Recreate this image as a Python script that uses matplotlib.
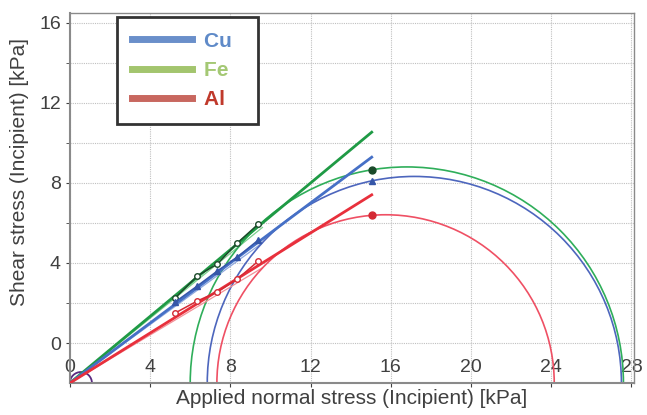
import matplotlib
matplotlib.use('Agg')
import matplotlib.pyplot as plt
from matplotlib.patches import Arc
from matplotlib.lines import Line2D

plt.rcParams['font.family'] = ['Liberation Sans', 'DejaVu Sans']

# normal stress of the measured points (kPa)
sigma_pts = [5.25, 6.35, 7.35, 8.35, 9.4]
fe_tau = [4.25, 5.35, 5.95, 7.0, 7.95]
cu_tau = [4.05, 4.85, 5.6, 6.3, 7.15]
al_tau = [3.5, 4.1, 4.55, 5.2, 6.1]

# mohr circles: (sigma_min, sigma_max)
fe_circle = (6.0, 27.6)
cu_circle = (6.85, 27.5)
al_circle = (7.33, 24.15)
small_circle = (0.0, 1.1)

# fitted yield loci: slope, end of line
fe_slope, cu_slope, al_slope = 0.833, 0.75, 0.625
fe_slope2, cu_slope2, al_slope2 = 0.81, 0.73, 0.60
sigma_end = 15.05
sigma_end2 = 9.6

# tick labels as printed (the printed y labels sit 2 kPa above the baseline)
xticks = [0, 4, 8, 12, 16, 20, 24, 28]
ytick_pos = [2, 6, 10, 14, 18]
ytick_lab = ['0', '4', '8', '12', '16']

materials = [
    # name, tau, circle, slope, slope2, fit col, poly col, thin col, circ col, marker, filled
    ('Fe', fe_tau, fe_circle, fe_slope, fe_slope2, '#1f9a45', '#1b4a2a', '#7ccf8c', '#2fae5a', 'o', False),
    ('Cu', cu_tau, cu_circle, cu_slope, cu_slope2, '#4670c6', '#3556a8', '#8ea8de', '#4d66bd', '^', True),
    ('Al', al_tau, al_circle, al_slope, al_slope2, '#e8303c', '#d42a34', '#f29098', '#ef5064', 'o', False),
]

fig = plt.figure(figsize=(6.47, 4.15), dpi=100)
ax = fig.add_axes([0.108, 0.077, 0.872, 0.892])

for name, tau, circ, k, k2, cfit, cpoly, cthin, ccirc, mk, filled in materials:
    # thin companion line
    ax.plot([0, sigma_end2], [0, k2 * sigma_end2], color=cthin, lw=0.9, zorder=2)
    # fitted line
    ax.plot([0, sigma_end], [0, k * sigma_end], color=cfit, lw=2.0, zorder=3)
    # measured points
    ax.plot(sigma_pts, tau, color=cpoly, lw=1.1, marker=mk, ms=4,
            mfc=cpoly if filled else 'white', mec=cpoly, zorder=4)
    # mohr circle
    c = (circ[0] + circ[1]) / 2
    r = (circ[1] - circ[0]) / 2
    ax.add_patch(Arc((c, 0), 2 * r, 2 * r, theta1=0, theta2=180,
                     color=ccirc, lw=1.2, zorder=2))
    # point on circle
    tau_c = (r ** 2 - (sigma_end - c) ** 2) ** 0.5
    ax.plot([sigma_end], [tau_c], marker=mk, ms=5, color=cpoly, zorder=5)

c = sum(small_circle) / 2
r = (small_circle[1] - small_circle[0]) / 2
ax.add_patch(Arc((c, 0), 2 * r, 2 * r, theta1=0, theta2=180,
                 color='#5a2a80', lw=1.3, zorder=2))

ax.set_xlim(0, 28.13)
ax.set_ylim(0, 18.5)
ax.set_xticks(xticks)
ax.set_xticklabels([str(v) for v in xticks])
ax.set_yticks(ytick_pos)
ax.set_yticklabels(ytick_lab)
ax.set_yticks(range(2, 19, 2), minor=True)
ax.grid(True, which='major', color='#c0c0c0', ls=(0, (1, 1)), lw=0.8)
ax.grid(True, which='minor', axis='y', color='#c0c0c0', ls=(0, (1, 1)), lw=0.8)
ax.set_axisbelow(True)

ax.tick_params(axis='x', pad=-20, labelsize=14, colors='#404040', length=3)
ax.tick_params(axis='y', which='both', labelsize=14, colors='#404040', length=3)
for s in ['left', 'bottom']:
    ax.spines[s].set_color('#8a8a8a')
    ax.spines[s].set_linewidth(1.5)
for s in ['top', 'right']:
    ax.spines[s].set_color('#8a8a8a')
    ax.spines[s].set_linewidth(1.0)

ax.set_xlabel('Applied normal stress (Incipient) [kPa]', fontsize=15, color='#404040', labelpad=1)
ax.set_ylabel('Shear stress (Incipient) [kPa]', fontsize=15, color='#404040')
ax.yaxis.set_label_coords(-0.072, 0.57)

handles = [Line2D([], [], color='#6a8fca', lw=5),
           Line2D([], [], color='#a3c56e', lw=5),
           Line2D([], [], color='#c8675f', lw=5)]
leg = ax.legend(handles, ['Cu  ', 'Fe  ', 'Al  '], loc='upper left',
                bbox_to_anchor=(0.181, 0.959), bbox_transform=fig.transFigure,
                borderaxespad=0,
                prop={'weight': 'bold', 'size': 15}, handlelength=2.9,
                labelspacing=0.5, handletextpad=0.55, borderpad=0.7,
                fancybox=False, framealpha=1, edgecolor='#333333',
                labelcolor=['#5f8ac8', '#a4c874', '#c0392b'])
leg.get_frame().set_linewidth(2)
leg.set_zorder(10)

fig.savefig('out.png', dpi=100)
